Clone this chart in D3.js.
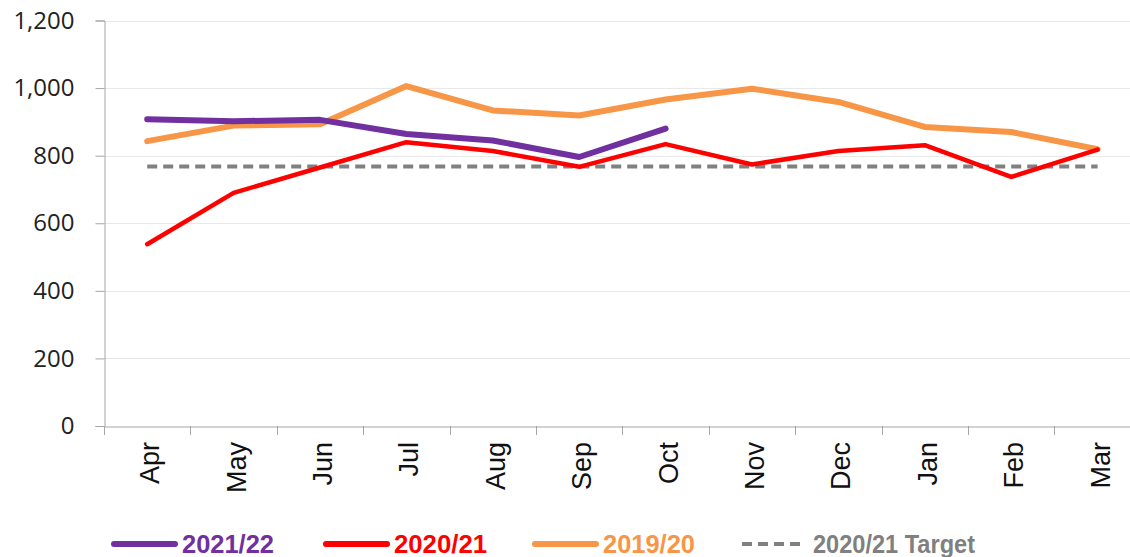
<!DOCTYPE html>
<html><head><meta charset="utf-8">
<script src="https://cdn.jsdelivr.net/npm/d3@7"></script>
<style>body{margin:0;background:#fff;} svg{display:block;}</style>
</head><body>
<svg id="c" width="1130" height="557"></svg>
<script>
const months = ["Apr","May","Jun","Jul","Aug","Sep","Oct","Nov","Dec","Jan","Feb","Mar"];
const s2122 = [908, 902, 906, 864, 845, 796, 880];
const s2021 = [538, 690, 765, 840, 814, 767, 834, 774, 814, 831, 737, 818];
const s1920 = [843, 889, 893, 1006, 934, 919, 966, 998, 959, 885, 870, 819];
const target = [768, 768, 768, 768, 768, 768, 768, 768, 768, 768, 768, 768];
const yTicks = [0, 200, 400, 600, 800, 1000, 1200];

const series = [
  {name:"2021/22", values:s2122, color:"#7030A0", width:6, dash:null},
  {name:"2020/21", values:s2021, color:"#FF0000", width:4.5, dash:null},
  {name:"2019/20", values:s1920, color:"#F79646", width:6, dash:null},
  {name:"2020/21 Target", values:target, color:"#808080", width:4, dash:"10,6"}
];

const svg = d3.select("#c");
const mLeft = 104, mTop = 20.5, mBottom = 426, step = 86.4;
const x = d3.scaleBand().domain(months).range([mLeft, mLeft + step*months.length]).padding(0);
const y = d3.scaleLinear().domain([0, 1200]).range([mBottom, mTop]);

// gridlines
svg.append("g").selectAll("line").data(yTicks.filter(d=>d>0)).join("line")
  .attr("x1", mLeft).attr("x2", 1130)
  .attr("y1", d=>Math.round(y(d))+0.5).attr("y2", d=>Math.round(y(d))+0.5)
  .attr("stroke", "#e8e8e8").attr("stroke-width", 1);

// y axis
const ya = svg.append("g").attr("transform", `translate(${mLeft+0.5},0)`)
  .call(d3.axisLeft(y).tickValues(yTicks).tickSize(9).tickPadding(21).tickFormat(d3.format(",")));
ya.select(".domain").attr("stroke", "#a6a6a6");
ya.selectAll(".tick line").attr("stroke", "#a6a6a6");
ya.selectAll(".tick text").attr("font-family", "Open Sans, Liberation Sans, sans-serif")
  .attr("font-size", 24).attr("fill", "#222");

// x axis
const xa = svg.append("g").attr("transform", `translate(0,${mBottom+0.5})`)
  .call(d3.axisBottom(x).tickSize(0).tickFormat(""));
xa.select(".domain").attr("stroke", "#a6a6a6");
xa.selectAll(".tick").remove();
const bounds = d3.range(months.length+1).map(i => mLeft + i*step);
svg.append("g").selectAll("line").data(bounds).join("line")
  .attr("x1", d=>Math.round(d)+0.5).attr("x2", d=>Math.round(d)+0.5)
  .attr("y1", mBottom).attr("y2", mBottom+9)
  .attr("stroke", "#a6a6a6");
svg.append("g").selectAll("text").data(months).join("text")
  .attr("transform", d => `translate(${x(d)+x.bandwidth()/2+3},442) rotate(-90)`)
  .attr("text-anchor", "end").attr("dominant-baseline", "central")
  .attr("font-family", "Liberation Sans, Arial, sans-serif").attr("font-size", 27)
  .attr("fill", "#111").text(d=>d);

// lines
const line = d3.line().x((d,i)=>x(months[i])+x.bandwidth()/2).y(d=>y(d));
[series[3], series[2], series[1], series[0]].forEach(s => {
  svg.append("path").datum(s.values).attr("d", line)
    .attr("fill", "none").attr("stroke", s.color).attr("stroke-width", s.width)
    .attr("stroke-linejoin", "round").attr("stroke-linecap", s.dash ? "butt" : "round")
    .attr("stroke-dasharray", s.dash);
});

// legend
const legX = [111, 323, 532, 742];
const legW = [92, 93, 92, 162];
const lg = svg.append("g");
series.forEach((s, i) => {
  const g = lg.append("g").attr("transform", `translate(${legX[i]},544)`);
  g.append("line").attr("x1", s.dash?0:3).attr("x2", s.dash?62:64).attr("y1", 0).attr("y2", 0)
    .attr("stroke", s.color).attr("stroke-width", s.dash?4:6)
    .attr("stroke-linecap", s.dash?"butt":"round").attr("stroke-dasharray", s.dash?"10,6":null);
  g.append("text").attr("x", 71).attr("y", 0).attr("dominant-baseline", "central")
    .attr("font-family", "Liberation Sans Narrow, Liberation Sans, sans-serif").attr("font-weight", "bold")
    .attr("font-size", 25).attr("fill", s.color)
    .attr("textLength", legW[i]).attr("lengthAdjust", "spacingAndGlyphs")
    .text(s.name);
});
</script>
</body></html>
